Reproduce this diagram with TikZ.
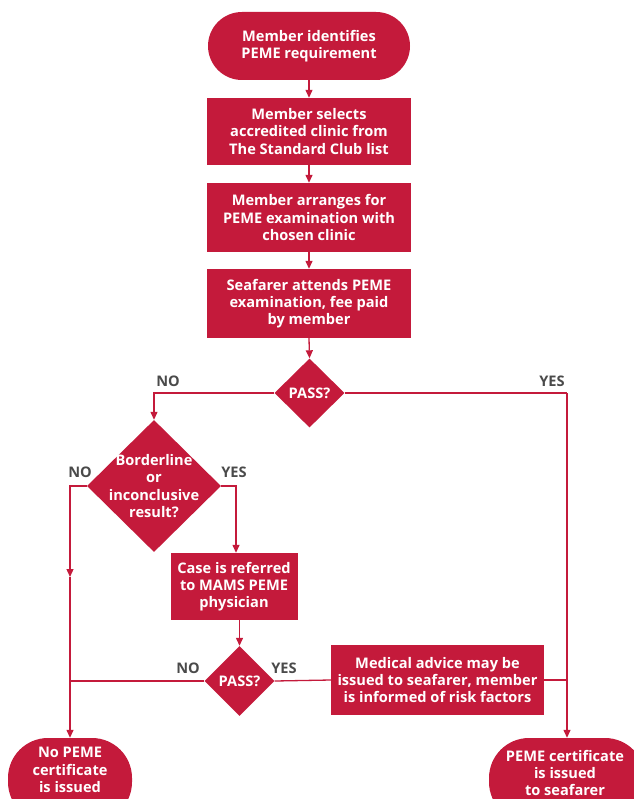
\documentclass[tikz,border=0pt]{standalone}
\usepackage{fontspec}
\setmainfont{Open Sans}
\usetikzlibrary{shapes.geometric,arrows.meta,calc}
\definecolor{sred}{HTML}{C41A3B}
\definecolor{lblgrey}{HTML}{4A4A4A}
\begin{document}
\begin{tikzpicture}[x=1pt,y=-1pt,
  txt/.style={text=white,font=\fontsize{14.6}{17.2}\selectfont\bfseries,align=center},
  term/.style={fill=sred,draw=none,rounded corners=34pt,inner sep=0pt},
  pbox/.style={fill=sred,draw=none,inner sep=0pt},
  dia/.style={diamond,fill=sred,draw=none,inner sep=0pt,aspect=1},
  lbl/.style={text=lblgrey,font=\fontsize{14.6}{16}\selectfont\bfseries,inner sep=0pt},
  conn/.style={draw=sred,line width=1.3pt},
  arr/.style={conn,-{Triangle[width=7pt,length=8pt]}}
]
\useasboundingbox (0,0) rectangle (633,799);
% nodes
\node[term,txt,minimum width=202pt,minimum height=68pt] (t1) at (309,46) {Member identifies\\PEME requirement};
\node[pbox,txt,minimum width=204pt,minimum height=67pt] (b1) at (309,131.5) {Member selects\\accredited clinic from\\The Standard Club list};
\node[pbox,txt,minimum width=204pt,minimum height=69pt] (b2) at (309,217.5) {Member arranges for\\PEME examination with\\chosen clinic};
\node[pbox,txt,minimum width=204pt,minimum height=69pt] (b3) at (309,303.5) {Seafarer attends PEME\\examination, fee paid\\by member};
\node[dia,minimum width=70pt,minimum height=69pt] (d1) at (309.5,393) {};
\node[txt] at (d1) {PASS?};
\node[dia,minimum width=134pt,minimum height=132pt] (d2) at (154,486) {};
\node[txt] at (154,486) {Borderline\\or\\inconclusive\\result?};
\node[pbox,txt,minimum width=127pt,minimum height=67pt] (b4) at (234,586.5) {Case is referred\\to MAMS PEME\\physician};
\node[dia,minimum width=70pt,minimum height=70pt] (d3) at (239.5,681) {};
\node[txt] at (d3) {PASS?};
\node[pbox,txt,minimum width=213pt,minimum height=70pt] (b5) at (437.5,680) {Medical advice may be\\issued to seafarer, member\\is informed of risk factors};
\node[term,rounded corners=40pt,minimum width=124pt,minimum height=84pt] (tl) at (70,780) {};
\node[txt] at (70,770) {No PEME\\certificate\\is issued};
\node[term,rounded corners=40pt,minimum width=156pt,minimum height=84pt] (tr) at (567,780) {};
\node[txt] at (565,773) {PEME certificate\\is issued\\to seafarer};
% labels
\node[lbl] (l1) at (168,381) {NO};
\node[lbl] (l2) at (552,381) {YES};
\node[lbl] (l3) at (80,472) {NO};
\node[lbl] (l4) at (234,472) {YES};
\node[lbl] (l5) at (188,668) {NO};
\node[lbl] (l6) at (284,668) {YES};
% coordinates
\coordinate (m1) at (70,577);
\coordinate (yesx) at (567,393);
% connectors
\draw[arr] (t1.south) -- (b1.north);
\draw[arr] (b1.south) -- (b2.north);
\draw[arr] (b2.south) -- (b3.north);
\draw[arr] (b3.south) -- (d1.north);
\draw[arr] (d1.west) -| (d2.north);
\draw[conn] (d1.east) -- (yesx);
\draw[arr] (yesx) -- (tr.north);
\draw[arr] (d2.east) -| ($(b4.north)+(2,0)$);
\draw[arr] (d2.west) -| (m1);
\draw[arr] (m1) -- (tl.north);
\draw[arr] (b4.south -| d3.north) -- (d3.north);
\draw[conn] (d3.west) -- (d3.west -| m1);
\draw[conn] (d3.east) -- (b5.west);
\draw[conn] (b5.east) -- (b5.east -| yesx);
\end{tikzpicture}
\end{document}
